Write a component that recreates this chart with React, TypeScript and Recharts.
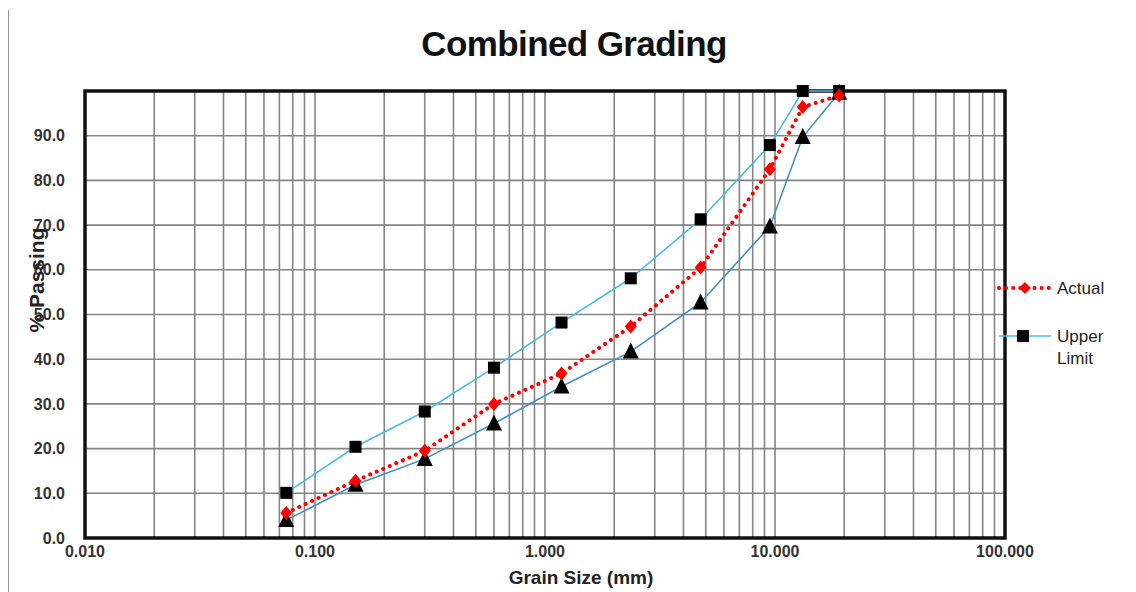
import { LineChart, Line, XAxis, YAxis, CartesianGrid, ReferenceArea } from 'recharts';

// sieve sizes (mm)
const sieveSizes = [0.075, 0.15, 0.3, 0.6, 1.18, 2.36, 4.75, 9.5, 13.2, 19];
const actualPassing = [5.6, 12.8, 19.5, 30.0, 36.8, 47.3, 60.5, 82.5, 96.4, 99.0];
const upperLimit = [10.1, 20.4, 28.3, 38.1, 48.2, 58.1, 71.3, 87.9, 100, 100];
const lowerLimit = [4.0, 11.9, 17.7, 25.6, 33.9, 41.7, 52.7, 69.7, 89.7, 99.6];

const decades = [0.01, 0.1, 1, 10];
const multipliers = [1, 2, 3, 4, 5, 6, 7, 8, 9];
const xTicks = [...decades.flatMap((d) => multipliers.map((m) => +(d * m).toPrecision(3))), 100];
const xLabels = [0.01, 0.1, 1, 10, 100];
const yTicks = [0, 10, 20, 30, 40, 50, 60, 70, 80, 90, 100];

const data = sieveSizes.map((size, i) => ({
  size,
  actual: actualPassing[i],
  upper: upperLimit[i],
  lower: lowerLimit[i],
}));

const FONT = 'Liberation Sans, Arial, sans-serif';

const Square = ({ cx, cy }: any) =>
  cx == null ? null : <rect x={cx - 6} y={cy - 6} width={12} height={12} fill="#000" />;

const Diamond = ({ cx, cy }: any) =>
  cx == null ? null : (
    <polygon points={`${cx},${cy - 7} ${cx + 6},${cy} ${cx},${cy + 7} ${cx - 6},${cy}`} fill="#ff0000" />
  );

const Triangle = ({ cx, cy }: any) =>
  cx == null ? null : (
    <polygon points={`${cx},${cy - 9} ${cx + 8},${cy + 7} ${cx - 8},${cy + 7}`} fill="#000" />
  );

export default function App() {
  return (
    <div style={{ position: 'fixed', left: 0, top: 0, width: 1136, height: 592, background: '#fff', fontFamily: FONT }}>
      <div style={{ position: 'absolute', left: 8, top: 10, width: 0, height: 582, borderLeft: '1.5px solid #9a9a9a' }} />
      <div
        style={{
          position: 'absolute',
          left: 0,
          width: 1136,
          top: 24,
          textAlign: 'center',
          paddingLeft: 6,
          fontSize: 35,
          fontWeight: 'bold',
          letterSpacing: -0.6,
          color: '#111',
        }}
      >
        Combined Grading
      </div>
      <LineChart
        width={1136}
        height={592}
        data={data}
        margin={{ top: 91, right: 131, bottom: 24, left: 25 }}
      >
        <CartesianGrid stroke="#858585" strokeWidth={1.6} />
        <XAxis
          dataKey="size"
          type="number"
          scale="log"
          domain={[0.01, 100]}
          ticks={xTicks}
          interval={0}
          allowDataOverflow
          tickLine={false}
          axisLine={false}
          height={30}
          tick={{ fontSize: 16, fontWeight: 'bold', fill: '#333', fontFamily: FONT }}
          tickFormatter={(v: number) => (xLabels.some((l) => Math.abs(l - v) < 1e-9) ? v.toFixed(3) : '')}
          label={{ value: 'Grain Size (mm)', position: 'insideBottom', offset: -16, dx: 36, fontSize: 19, fontWeight: 'bold', fill: '#222', fontFamily: FONT }}
        />
        <YAxis
          type="number"
          domain={[0, 100]}
          ticks={yTicks}
          interval={0}
          tickLine={false}
          axisLine={false}
          width={60}
          tickMargin={14}
          tick={{ fontSize: 16, fontWeight: 'bold', fill: '#333', fontFamily: FONT }}
          tickFormatter={(v: number) => (v === 100 ? '' : v.toFixed(1))}
        />
        <ReferenceArea x1={0.01} x2={100} y1={0} y2={100} fill="none" stroke="#111" strokeWidth={3.5} ifOverflow="extendDomain" />
        <Line
          dataKey="lower"
          stroke="#3f8ec8"
          strokeWidth={1.6}
          dot={<Triangle />}
          activeDot={false}
          isAnimationActive={false}
        />
        <Line
          dataKey="upper"
          stroke="#47bce6"
          strokeWidth={1.6}
          dot={<Square />}
          activeDot={false}
          isAnimationActive={false}
        />
        <Line
          dataKey="actual"
          stroke="#ff0000"
          strokeWidth={4}
          strokeDasharray="0.1 7"
          strokeLinecap="round"
          dot={<Diamond />}
          activeDot={false}
          isAnimationActive={false}
        />
      </LineChart>
      <svg style={{ position: 'absolute', left: 0, top: 0, pointerEvents: 'none' }} width={80} height={592}>
        <text
          transform="translate(44,280) rotate(-90)"
          textAnchor="middle"
          fontSize={21}
          fontWeight="bold"
          fill="#222"
          fontFamily={FONT}
        >
          % Passing
        </text>
      </svg>
      <svg style={{ position: 'absolute', left: 995, top: 275 }} width={141} height={100}>
        <line x1={4} y1={13} x2={56} y2={13} stroke="#ff0000" strokeWidth={4} strokeDasharray="0.1 7" strokeLinecap="round" />
        <polygon points="30,7 36,13 30,19 24,13" fill="#ff0000" />
        <text x={62} y={19} fontSize={17} fill="#222" fontFamily={FONT}>Actual</text>
        <line x1={4} y1={61} x2={56} y2={61} stroke="#47bce6" strokeWidth={1.6} />
        <rect x={22} y={55} width={12} height={12} fill="#000" />
        <text x={62} y={67} fontSize={17} fill="#222" fontFamily={FONT}>Upper</text>
        <text x={62} y={89} fontSize={17} fill="#222" fontFamily={FONT}>Limit</text>
      </svg>
    </div>
  );
}
